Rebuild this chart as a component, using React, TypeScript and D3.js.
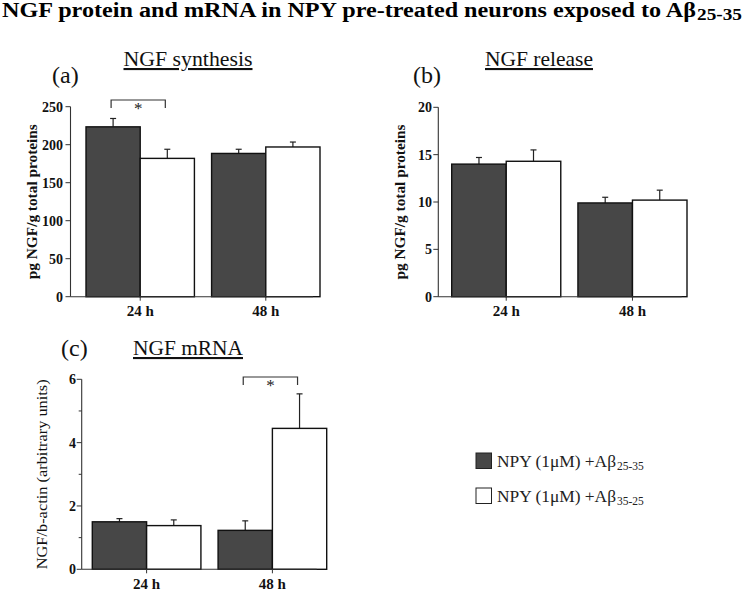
import React from "react";
import * as d3 from "d3";

const categories = ["24 h", "48 h"];
const seriesLabels = ["NPY (1μM) +Aβ", "NPY (1μM) +Aβ"];
const seriesSubs = ["25-35", "35-25"];

const synthesisDark = [223.5, 188.5];
const synthesisDarkErr = [11, 5.5];
const synthesisWhite = [182, 197];
const synthesisWhiteErr = [12, 6.5];
const synthesisTicks = [0, 50, 100, 150, 200, 250];

const releaseDark = [14.0, 9.9];
const releaseDarkErr = [0.7, 0.6];
const releaseWhite = [14.3, 10.2];
const releaseWhiteErr = [1.2, 1.05];
const releaseTicks = [0, 5, 10, 15, 20];

const mrnaDark = [1.5, 1.23];
const mrnaDarkErr = [0.1, 0.3];
const mrnaWhite = [1.38, 4.45];
const mrnaWhiteErr = [0.18, 1.09];
const mrnaTicks = [0, 2, 4, 6];
const mrnaMinorTicks = [1, 3, 5];

const SERIF = "'Liberation Serif', 'Times New Roman', serif";
const DARK = "#474747";

type PanelProps = {
  axisX: number;
  axisRight: number;
  barsLeft: number;
  barsRight: number;
  yTop: number;
  yBottom: number;
  domainMax: number;
  ticks: number[];
  minorTicks?: number[];
  dark: number[];
  darkErr: number[];
  white: number[];
  whiteErr: number[];
  yLabel: string;
  yLabelX: number;
  yLabelBold: boolean;
  yLabelSize: number;
  yLabelLength: number;
  tickLabelRight: number;
  xLabelY: number;
  sigIndex?: number;
  sigY?: number;
};

function Panel(p: PanelProps) {
  const y = d3.scaleLinear().domain([0, p.domainMax]).range([p.yBottom, p.yTop]);
  const gap = 16;
  const groupW = (p.barsRight - p.barsLeft - gap) / 2;
  const step = groupW + gap;
  const x0 = d3
    .scaleBand<string>()
    .domain(categories)
    .range([p.barsLeft, p.barsRight + gap])
    .paddingInner(gap / step)
    .paddingOuter(0)
    .align(0);
  const x1 = d3.scaleBand<string>().domain(["dark", "white"]).range([0, x0.bandwidth()]);
  const series = [
    { key: "dark", vals: p.dark, errs: p.darkErr, fill: DARK },
    { key: "white", vals: p.white, errs: p.whiteErr, fill: "#ffffff" },
  ];
  const yMid = (p.yTop + p.yBottom) / 2;
  return (
    <g>
      {series.map((s) =>
        categories.map((c, i) => {
          const bx = (x0(c) as number) + (x1(s.key) as number);
          const bw = x1.bandwidth();
          const cx = bx + bw / 2;
          const top = y(s.vals[i]);
          const etop = y(s.vals[i] + s.errs[i]);
          return (
            <g key={s.key + c}>
              <line x1={cx} x2={cx} y1={top} y2={etop} stroke="#222" strokeWidth={1.2} />
              <line x1={cx - 3} x2={cx + 3} y1={etop} y2={etop} stroke="#222" strokeWidth={1.2} />
              <rect x={bx} y={top} width={bw} height={p.yBottom - top} fill={s.fill} stroke="#111" strokeWidth={1.4} />
            </g>
          );
        })
      )}
      <line x1={p.axisX} x2={p.axisX} y1={p.yTop} y2={p.yBottom} stroke="#333" strokeWidth={1.1} />
      <line x1={p.axisX} x2={p.axisRight} y1={p.yBottom} y2={p.yBottom} stroke="#333" strokeWidth={1.1} />
      {(p.minorTicks || []).map((t) => (
        <line key={"m" + t} x1={p.axisX - 3} x2={p.axisX} y1={y(t)} y2={y(t)} stroke="#333" />
      ))}
      {p.ticks.map((t) => (
        <g key={t}>
          <line x1={p.axisX - 5} x2={p.axisX} y1={y(t)} y2={y(t)} stroke="#333" />
          <text
            x={p.tickLabelRight}
            y={y(t)}
            dy="0.35em"
            textAnchor="end"
            fontFamily={SERIF}
            fontWeight="bold"
            fontSize={14}
            fill="#111"
          >
            {t}
          </text>
        </g>
      ))}
      {categories.map((c) => {
        const cx = (x0(c) as number) + x0.bandwidth() / 2;
        return (
          <g key={c}>
            <line x1={cx} x2={cx} y1={p.yBottom} y2={p.yBottom + 4} stroke="#333" />
            <text x={cx} y={p.xLabelY} textAnchor="middle" fontFamily={SERIF} fontWeight="bold" fontSize={15} fill="#111">
              {c}
            </text>
          </g>
        );
      })}
      <text
        transform={`translate(${p.yLabelX},${yMid}) rotate(-90)`}
        textAnchor="middle"
        dy="0.35em"
        fontFamily={SERIF}
        fontWeight={p.yLabelBold ? "bold" : "normal"}
        fontSize={p.yLabelSize}
        textLength={p.yLabelLength}
        lengthAdjust="spacingAndGlyphs"
        fill="#111"
      >
        {p.yLabel}
      </text>
      {p.sigIndex !== undefined && p.sigY !== undefined
        ? (() => {
            const c = categories[p.sigIndex];
            const bx = x0(c) as number;
            const xa = bx + (x1("dark") as number) + x1.bandwidth() / 2 - 2;
            const xb = bx + (x1("white") as number) + x1.bandwidth() / 2 - 2;
            const sy = p.sigY;
            return (
              <g>
                <path d={`M${xa},${sy + 8}V${sy}H${xb}V${sy + 8}`} fill="none" stroke="#333" strokeWidth={1.2} />
                <text x={(xa + xb) / 2} y={sy + 14} textAnchor="middle" fontFamily={SERIF} fontSize={17} fill="#222">
                  *
                </text>
              </g>
            );
          })()
        : null}
    </g>
  );
}

export default function App() {
  return (
    <svg
      width={744}
      height={592}
      style={{ position: "absolute", left: 0, top: 0, background: "#fff" }}
      xmlns="http://www.w3.org/2000/svg"
    >
      <rect x={0} y={0} width={744} height={592} fill="#fff" />
      <text x={2} y={16.5} fontFamily={SERIF} fontWeight="bold" fontSize={20} textLength={694} lengthAdjust="spacingAndGlyphs" fill="#000">
        NGF protein and mRNA in NPY pre-treated neurons exposed to Aβ
      </text>
      <text x={697} y={20} fontFamily={SERIF} fontWeight="bold" fontSize={16} textLength={45} lengthAdjust="spacingAndGlyphs" fill="#000">
        25-35
      </text>

      {/* Panel a */}
      <text x={52} y={83} fontFamily={SERIF} fontSize={24} fill="#111">(a)</text>
      <text x={188} y={66} textAnchor="middle" fontFamily={SERIF} fontSize={21} textLength={129} lengthAdjust="spacingAndGlyphs" textDecoration="underline" fill="#111">
        NGF synthesis
      </text>
      <Panel
        axisX={70.5}
        axisRight={313}
        barsLeft={86}
        barsRight={304}
        yTop={106.7}
        yBottom={296.7}
        domainMax={250}
        ticks={synthesisTicks}
        dark={synthesisDark}
        darkErr={synthesisDarkErr}
        white={synthesisWhite}
        whiteErr={synthesisWhiteErr}
        yLabel="pg NGF/g total proteins"
        yLabelX={32}
        yLabelBold={true}
        yLabelSize={14}
        yLabelLength={155}
        tickLabelRight={63}
        xLabelY={316}
        sigIndex={0}
        sigY={100}
      />

      {/* Panel b */}
      <text x={413} y={83} fontFamily={SERIF} fontSize={24} fill="#111">(b)</text>
      <text x={539} y={66} textAnchor="middle" fontFamily={SERIF} fontSize={21} textLength={108} lengthAdjust="spacingAndGlyphs" textDecoration="underline" fill="#111">
        NGF release
      </text>
      <Panel
        axisX={438.3}
        axisRight={681.7}
        barsLeft={451.7}
        barsRight={671}
        yTop={107.3}
        yBottom={296.7}
        domainMax={20}
        ticks={releaseTicks}
        dark={releaseDark}
        darkErr={releaseDarkErr}
        white={releaseWhite}
        whiteErr={releaseWhiteErr}
        yLabel="pg NGF/g total proteins"
        yLabelX={400}
        yLabelBold={true}
        yLabelSize={14}
        yLabelLength={155}
        tickLabelRight={432}
        xLabelY={316}
      />

      {/* Panel c */}
      <text x={61} y={356} fontFamily={SERIF} fontSize={24} fill="#111">(c)</text>
      <text x={188} y={355} textAnchor="middle" fontFamily={SERIF} fontSize={21} textLength={110} lengthAdjust="spacingAndGlyphs" textDecoration="underline" fill="#111">
        NGF mRNA
      </text>
      <Panel
        axisX={81.7}
        axisRight={316.7}
        barsLeft={92.3}
        barsRight={310.7}
        yTop={379.3}
        yBottom={569.3}
        domainMax={6}
        ticks={mrnaTicks}
        minorTicks={mrnaMinorTicks}
        dark={mrnaDark}
        darkErr={mrnaDarkErr}
        white={mrnaWhite}
        whiteErr={mrnaWhiteErr}
        yLabel="NGF/b-actin (arbitrary units)"
        yLabelX={42}
        yLabelBold={false}
        yLabelSize={15}
        yLabelLength={190}
        tickLabelRight={76}
        xLabelY={589}
        sigIndex={1}
        sigY={377}
      />

      {/* Legend */}
      {seriesLabels.map((lab, i) => (
        <g key={i} transform={`translate(476,${453 + i * 35})`}>
          <rect x={0} y={0} width={15.5} height={15.5} fill={i === 0 ? DARK : "#fff"} stroke="#222" strokeWidth={1} />
          <text x={21} y={13.5} fontFamily={SERIF} fontSize={16} fill="#222" textLength={119} lengthAdjust="spacingAndGlyphs">
            {lab}
          </text>
          <text x={141} y={16.5} fontFamily={SERIF} fontSize={11.5} fill="#222">
            {seriesSubs[i]}
          </text>
        </g>
      ))}
    </svg>
  );
}
